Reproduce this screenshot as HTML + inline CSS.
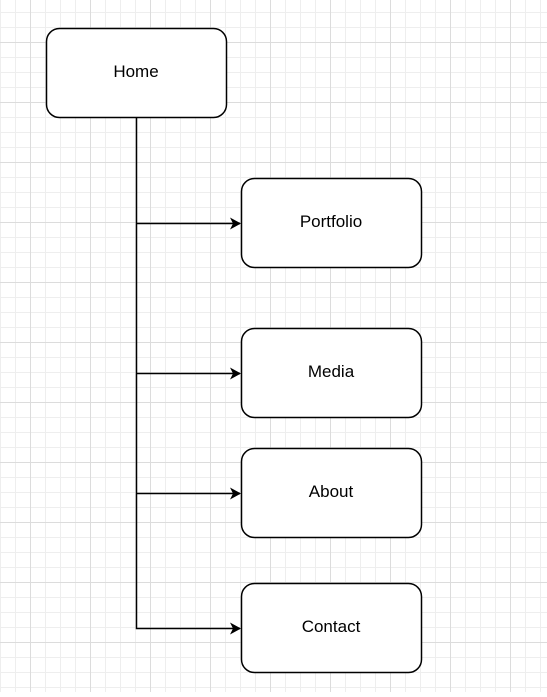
<!DOCTYPE html>
<html><head><style>
html,body{margin:0;padding:0;}
body{width:547px;height:692px;overflow:hidden;background:#fff;}
</style></head><body>
<svg width="547" height="692" xmlns="http://www.w3.org/2000/svg">
<defs>
<pattern id="minor" x="0" y="12" width="15" height="15" patternUnits="userSpaceOnUse">
<path d="M0 0.5H15M0.5 0V15" stroke="#eeeeee" stroke-width="1" fill="none"/>
</pattern>
<pattern id="major" x="30" y="42" width="60" height="60" patternUnits="userSpaceOnUse">
<path d="M0 0.5H60M0.5 0V60" stroke="#dcdcdc" stroke-width="1" fill="none"/>
</pattern>
<marker id="ar" markerWidth="12" markerHeight="12" refX="10" refY="6" orient="auto" markerUnits="userSpaceOnUse">
<path d="M0 0L11 6L0 12L3 6Z" fill="#000"/>
</marker>
</defs>
<rect width="547" height="692" fill="url(#minor)"/>
<rect width="547" height="692" fill="url(#major)"/>
<g stroke="#000" stroke-width="1.5" fill="none">
<path d="M136.5 118V628.5H240" marker-end="url(#ar)"/>
<path d="M136.5 223.5H240" marker-end="url(#ar)"/>
<path d="M136.5 373.5H240" marker-end="url(#ar)"/>
<path d="M136.5 493.5H240" marker-end="url(#ar)"/>
</g>
<g stroke="#000" stroke-width="1.5" fill="#fff">
<rect x="46.5" y="28.5" width="180" height="89" rx="13"/>
<rect x="241.5" y="178.5" width="180" height="89" rx="13"/>
<rect x="241.5" y="328.5" width="180" height="89" rx="13"/>
<rect x="241.5" y="448.5" width="180" height="89" rx="13"/>
<rect x="241.5" y="583.5" width="180" height="89" rx="13"/>
</g>
<g font-family="Liberation Sans, sans-serif" font-size="17" text-anchor="middle" fill="#000">
<text x="136" y="77">Home</text>
<text x="331" y="227">Portfolio</text>
<text x="331" y="377">Media</text>
<text x="331" y="497">About</text>
<text x="331" y="632">Contact</text>
</g>
</svg>
</body></html>
